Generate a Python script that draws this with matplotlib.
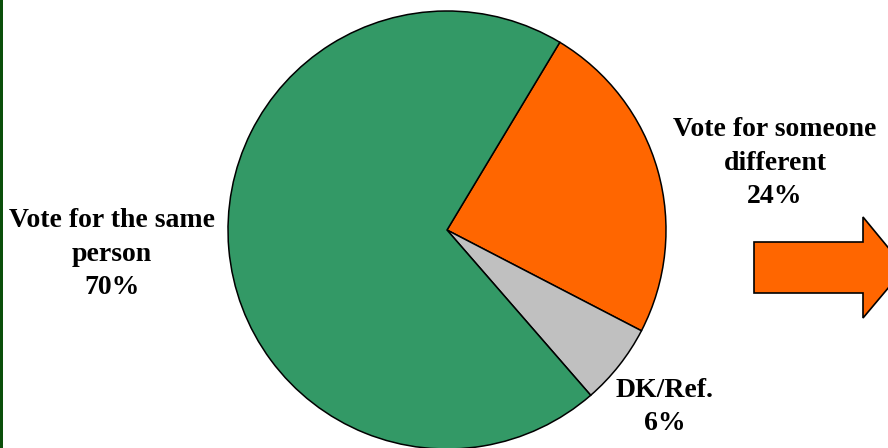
import matplotlib.pyplot as plt
from matplotlib.patches import Polygon, Rectangle

# survey answer shares
labels = ["Vote for someone\ndifferent", "DK/Ref.", "Vote for the same\nperson"]
shares = [24, 6, 70]
colors = ["#FF6600", "#C0C0C0", "#339966"]

fig = plt.figure(figsize=(8.88, 4.48), dpi=100)
ax = fig.add_axes([0, 0, 1, 1])

ax.pie(shares, colors=colors, startangle=59, counterclock=False,
       center=(447, 218), radius=219,
       wedgeprops=dict(edgecolor="black", linewidth=1.1))
ax.set_xlim(0, 888)
ax.set_ylim(0, 448)
ax.set_aspect("auto")
ax.axis("off")

font = dict(family="Liberation Serif", fontweight="bold", fontsize=20,
            ha="center", va="center", linespacing=1.45)
label_pos = [(775, 285), (665, 41), (112, 194)]
for lab, val, (x, y) in zip(labels, shares, label_pos):
    ax.text(x, y, f"{lab}\n{val}%", **font)

# arrow on the right
arrow = Polygon([(754, 206), (863, 206), (863, 231), (905, 180),
                 (863, 130), (863, 155), (754, 155)],
                closed=True, facecolor="#FF6600", edgecolor="black", linewidth=1.2)
ax.add_patch(arrow)

# dark green frame line on the left
ax.add_patch(Rectangle((0, 0), 3, 448, facecolor="#0B4F0B", edgecolor="none"))

fig.savefig("out.png", dpi=100)
